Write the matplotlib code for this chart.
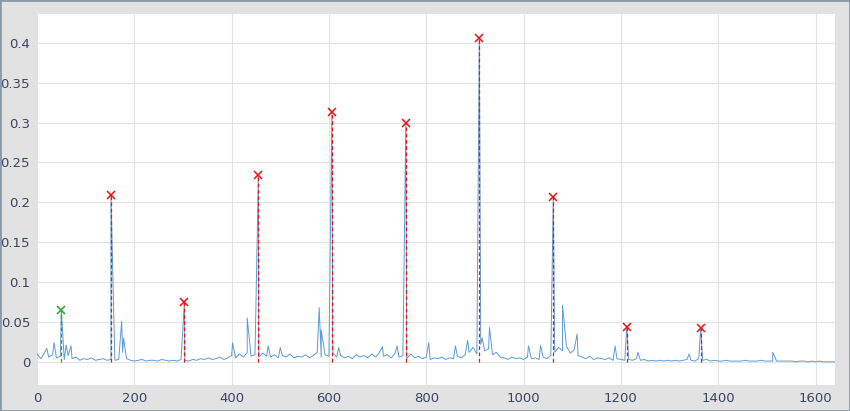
import numpy as np
import matplotlib
matplotlib.use("Agg")
import matplotlib.pyplot as plt

base_step = 8
base_vals = [
.010,.004,.012,.006,.009,.005,.007,.003,.008,.004,
.006,.002,.004,.003,.005,.002,.003,.004,.002,.003,
.002,.003,.012,.004,.002,.001,.002,.003,.001,.002,
.002,.001,.003,.002,.001,.002,.001,.003,.002,.001,
.003,.002,.004,.003,.005,.003,.004,.006,.003,.005,
.008,.005,.010,.006,.012,.007,.009,.006,.011,.007,
.006,.009,.005,.008,.006,.010,.005,.007,.006,.009,
.005,.008,.012,.006,.009,.007,.011,.006,.008,.005,
.007,.004,.009,.006,.008,.005,.010,.006,.012,.007,
.009,.005,.011,.006,.008,.004,.010,.005,.007,.004,
.006,.003,.005,.004,.006,.003,.005,.004,.007,.005,
.009,.012,.018,.010,.022,.014,.016,.009,.012,.006,
.005,.003,.006,.004,.005,.003,.006,.004,.005,.003,
.006,.004,.008,.012,.018,.014,.020,.011,.015,.008,
.006,.004,.007,.003,.005,.004,.003,.005,.002,.004,
.003,.002,.003,.002,.004,.002,.003,.001,.002,.001,
.002,.001,.002,.001,.002,.001,.002,.003,.002,.001,
.004,.002,.003,.001,.002,.001,.001,.002,.001,.001,
.001,.001,.002,.001,.001,.001,.002,.001,.001,.001,
.001,.001,.001,.001,.001,.000,.001,.001,.000,.001,
.000,.001,.000,.000,.000,.000]
spike_x = [20,35,50,60,70,152,174,178,303,402,432,455,475,500,580,584,606,620,710,740,758,
           805,860,885,909,915,930,1010,1035,1061,1080,1085,1110,1188,1212,1235,1340,1364,1512]
spike_y = [.017,.024,.065,.021,.020,.209,.051,.030,.075,.024,.055,.234,.020,.018,.068,.040,.313,.018,.019,.020,.300,
           .024,.020,.027,.406,.030,.043,.020,.021,.207,.071,.040,.035,.020,.044,.012,.010,.043,.012]
peak_x = [50,152,303,455,606,758,909,1061,1212,1364]
peak_y = [.065,.209,.075,.234,.313,.300,.406,.207,.044,.043]
peak_color = ['#22aa22'] + ['#ee1111'] * 9

bx = list(range(0, base_step * len(base_vals), base_step))
pts = sorted(list(zip(bx, base_vals)) + list(zip(spike_x, spike_y)))
xs = [p[0] for p in pts]; ys = [p[1] for p in pts]

fig = plt.figure(figsize=(8.5, 4.11), dpi=100, facecolor='#e2e2e2')
ax = fig.add_axes([37/850, 26/411, 798/850, 371/411])
ax.plot(xs, ys, color='#5b9bd8', lw=0.7, zorder=2)
for px, py, c in zip(peak_x, peak_y, peak_color):
    ax.plot([px, px], [0, py], color=c, ls=(0, (3, 2)), lw=0.9, zorder=3)
    ax.plot(px, py, marker='x', color=c, ms=6, mew=1.1, zorder=4)
ax.set_xlim(0, 1640)
ax.set_ylim(-0.029, 0.436)
ax.set_xticks(range(0, 1601, 200))
ax.set_yticks([0, .05, .1, .15, .2, .25, .3, .35, .4])
ax.set_yticklabels(['0', '0.05', '0.1', '0.15', '0.2', '0.25', '0.3', '0.35', '0.4'])
ax.grid(True, color='#e3e3e3', lw=0.8, zorder=0)
for s in ax.spines.values():
    s.set_visible(False)
ax.tick_params(length=0, labelsize=9.5, colors='#3a4466', pad=5)
fig.patches.append(plt.Rectangle((0, 0), 1, 1, transform=fig.transFigure, fill=False,
                                 edgecolor='#8a9aa8', lw=2))
fig.savefig('out.png', dpi=100, facecolor=fig.get_facecolor())
